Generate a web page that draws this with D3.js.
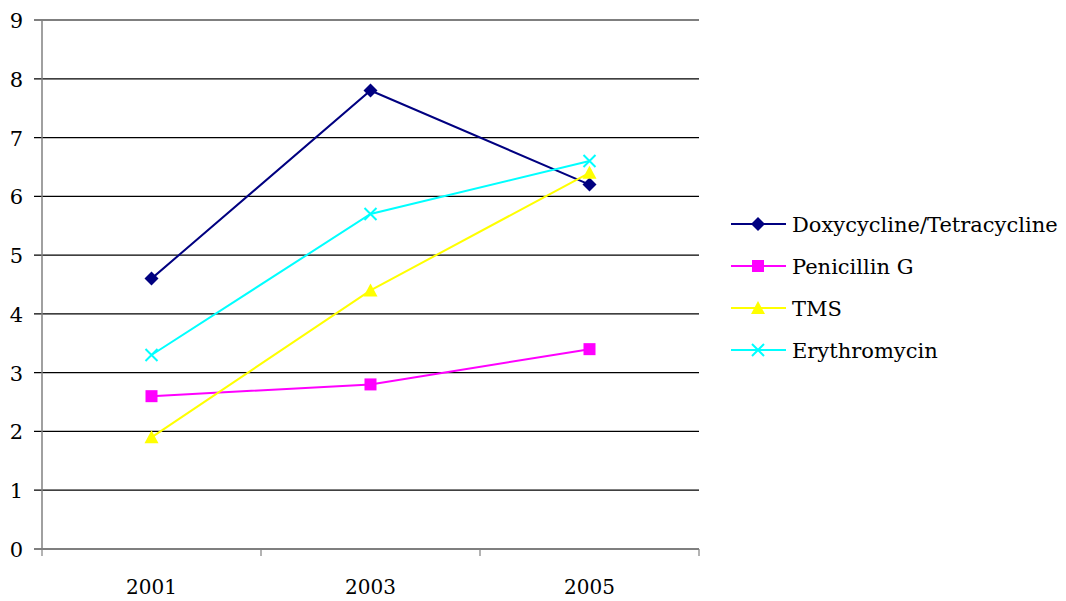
<!DOCTYPE html>
<html>
<head>
<meta charset="utf-8">
<script src="https://cdn.jsdelivr.net/npm/d3@7"></script>
<style>
  body { margin: 0; background: #fff; }
</style>
</head>
<body>
<svg id="chart" width="1066" height="601"></svg>
<script>
// Données
const years = ["2001", "2003", "2005"];
const seriesNames = ["Doxycycline/Tetracycline", "Penicillin G", "TMS", "Erythromycin"];
const doxy = [4.6, 7.8, 6.2];
const penicillin = [2.6, 2.8, 3.4];
const tms = [1.9, 4.4, 6.4];
const erythro = [3.3, 5.7, 6.6];
const yTicks = [0, 1, 2, 3, 4, 5, 6, 7, 8, 9];

const series = [
  { name: seriesNames[0], values: doxy, color: "#000080", symbol: "diamond" },
  { name: seriesNames[1], values: penicillin, color: "#ff00ff", symbol: "square" },
  { name: seriesNames[2], values: tms, color: "#ffff00", symbol: "triangle" },
  { name: seriesNames[3], values: erythro, color: "#00ffff", symbol: "cross" }
];

const fontFamily = "DejaVu Serif";

const svg = d3.select("#chart")
  .style("font-family", fontFamily);
const margin = { left: 42, right: 699, top: 20, bottom: 549 };

const x = d3.scaleBand().domain(years).range([margin.left, margin.right]);
const y = d3.scaleLinear().domain([0, 9]).range([margin.bottom, margin.top]);

// Quadrillage
svg.append("g")
  .selectAll("line")
  .data(yTicks)
  .enter().append("line")
  .attr("x1", margin.left - 8)
  .attr("x2", margin.right)
  .attr("y1", d => y(d))
  .attr("y2", d => y(d))
  .attr("stroke", "#000")
  .attr("stroke-width", 1.2);

// Axe Y
svg.append("line")
  .attr("x1", margin.left).attr("x2", margin.left)
  .attr("y1", margin.top).attr("y2", margin.bottom + 1)
  .attr("stroke", "#808080").attr("stroke-width", 1.5);

svg.append("g")
  .selectAll("text")
  .data(yTicks)
  .enter().append("text")
  .attr("x", 23)
  .attr("y", d => y(d) + 8)
  .attr("text-anchor", "end")
  .style("font-family", fontFamily)
  .attr("font-size", "21px")
  .text(d => d);

// Axe X : graduations entre les catégories
const xBounds = years.map(d => x(d)).concat([margin.right]);
svg.append("g")
  .selectAll("line")
  .data(xBounds)
  .enter().append("line")
  .attr("x1", d => d).attr("x2", d => d)
  .attr("y1", margin.bottom).attr("y2", margin.bottom + 7)
  .attr("stroke", "#808080").attr("stroke-width", 1.2);

svg.append("g")
  .selectAll("text")
  .data(years)
  .enter().append("text")
  .attr("x", d => x(d) + x.bandwidth() / 2)
  .attr("y", 594)
  .attr("text-anchor", "middle")
  .style("font-family", fontFamily)
  .attr("font-size", "20px")
  .text(d => d);

// Symboles
function drawMarker(sel, s, cx, cy) {
  if (s.symbol === "diamond") {
    sel.append("path")
      .attr("d", `M${cx},${cy - 7}L${cx + 7},${cy}L${cx},${cy + 7}L${cx - 7},${cy}Z`)
      .attr("fill", s.color);
  } else if (s.symbol === "square") {
    sel.append("rect")
      .attr("x", cx - 6).attr("y", cy - 6)
      .attr("width", 12).attr("height", 12)
      .attr("fill", s.color);
  } else if (s.symbol === "triangle") {
    sel.append("path")
      .attr("d", `M${cx},${cy - 7}L${cx + 7},${cy + 6}L${cx - 7},${cy + 6}Z`)
      .attr("fill", s.color);
  } else {
    sel.append("path")
      .attr("d", `M${cx - 6},${cy - 6}L${cx + 6},${cy + 6}M${cx - 6},${cy + 6}L${cx + 6},${cy - 6}`)
      .attr("stroke", s.color).attr("stroke-width", 2).attr("fill", "none");
  }
}

const line = d3.line()
  .x((d, i) => x(years[i]) + x.bandwidth() / 2)
  .y(d => y(d));

series.forEach(s => {
  const g = svg.append("g");
  g.append("path")
    .attr("d", line(s.values))
    .attr("fill", "none")
    .attr("stroke", s.color)
    .attr("stroke-width", 2);
  s.values.forEach((v, i) => drawMarker(g, s, x(years[i]) + x.bandwidth() / 2, y(v)));
});

// Légende
const legend = svg.append("g");
series.forEach((s, i) => {
  const ly = 224 + i * 42;
  legend.append("line")
    .attr("x1", 731).attr("x2", 786)
    .attr("y1", ly).attr("y2", ly)
    .attr("stroke", s.color).attr("stroke-width", 2);
  drawMarker(legend, s, 758, ly);
  legend.append("text")
    .attr("x", 792)
    .attr("y", ly + 8)
    .style("font-family", fontFamily)
    .attr("font-size", "21px")
    .text(s.name);
});
</script>
</body>
</html>
